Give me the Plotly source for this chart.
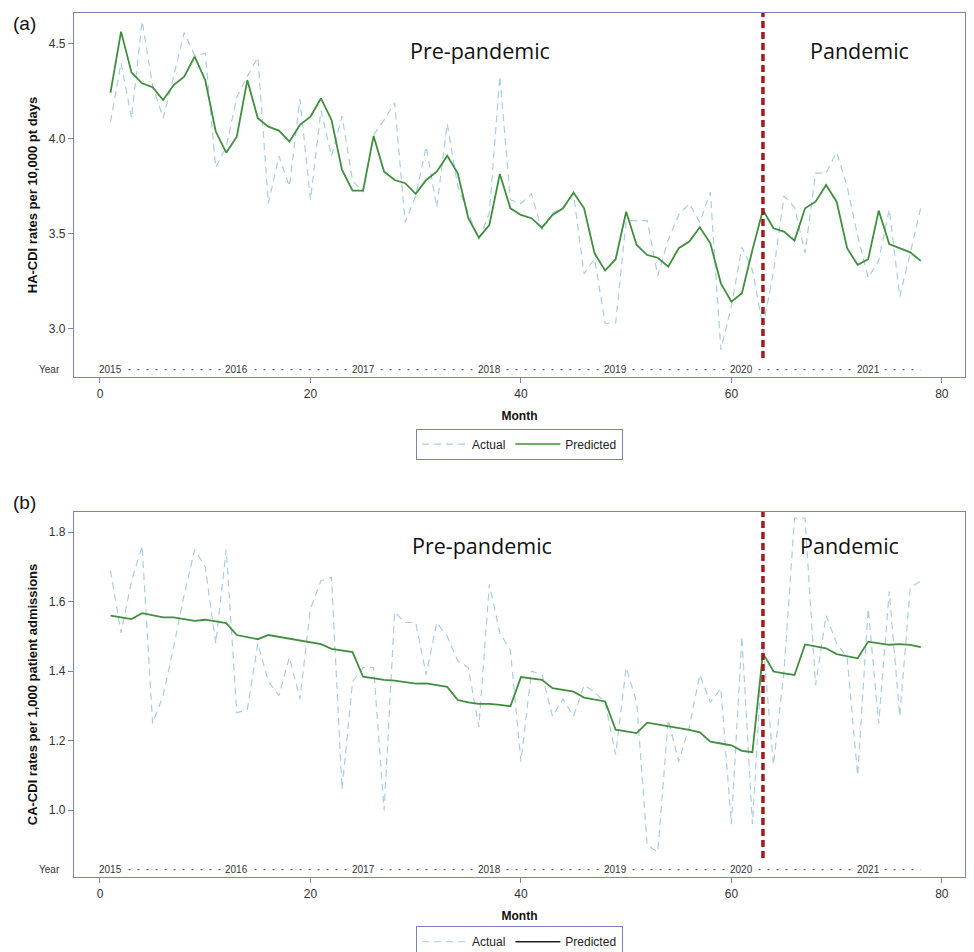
import plotly.graph_objects as go

# months since Jan 2015
months = list(range(1, 79))

# (a) HA-CDI rates per 10,000 pt days
ha_actual = [
    4.09, 4.40, 4.11, 4.62, 4.28, 4.11, 4.33, 4.56, 4.44, 4.45,
    3.85, 3.96, 4.22, 4.33, 4.43, 3.66, 3.91, 3.75, 4.21, 3.68,
    4.15, 3.91, 4.12, 3.78, 3.72, 4.02, 4.10, 4.19, 3.56, 3.70,
    3.96, 3.64, 4.08, 3.75, 3.61, 3.47, 3.61, 4.33, 3.68, 3.66,
    3.71, 3.52, 3.61, 3.64, 3.71, 3.29, 3.37, 3.03, 3.03, 3.57,
    3.57, 3.57, 3.28, 3.47, 3.60, 3.66, 3.56, 3.72, 2.89, 3.12,
    3.43, 3.31, 3.01, 3.30, 3.70, 3.64, 3.40, 3.82, 3.82, 3.93,
    3.75, 3.49, 3.27, 3.36, 3.63, 3.17, 3.40, 3.64,
]
ha_predicted = [
    4.244, 4.565, 4.349, 4.293, 4.272, 4.205, 4.284, 4.328, 4.433, 4.310,
    4.039, 3.928, 4.012, 4.310, 4.109, 4.065, 4.044, 3.986, 4.074, 4.117,
    4.214, 4.100, 3.837, 3.728, 3.728, 4.016, 3.828, 3.784, 3.767, 3.711,
    3.784, 3.828, 3.912, 3.819, 3.583, 3.481, 3.547, 3.816, 3.635, 3.600,
    3.583, 3.533, 3.600, 3.635, 3.718, 3.635, 3.398, 3.307, 3.367, 3.617,
    3.442, 3.389, 3.375, 3.328, 3.425, 3.460, 3.535, 3.451, 3.240, 3.144,
    3.188, 3.416, 3.626, 3.530, 3.512, 3.465, 3.635, 3.670, 3.758, 3.670,
    3.425, 3.337, 3.367, 3.623, 3.447, 3.425, 3.403, 3.358,
]

# (b) CA-CDI rates per 1,000 patient admissions
ca_actual = [
    1.69, 1.51, 1.66, 1.76, 1.25, 1.33, 1.47, 1.62, 1.75, 1.70,
    1.48, 1.75, 1.28, 1.29, 1.48, 1.37, 1.33, 1.44, 1.32, 1.58,
    1.66, 1.67, 1.06, 1.37, 1.41, 1.41, 1.00, 1.57, 1.54, 1.54,
    1.39, 1.54, 1.50, 1.43, 1.41, 1.24, 1.65, 1.51, 1.46, 1.14,
    1.40, 1.39, 1.27, 1.32, 1.27, 1.36, 1.34, 1.31, 1.16, 1.41,
    1.31, 0.90, 0.88, 1.26, 1.14, 1.24, 1.39, 1.31, 1.35, 0.96,
    1.50, 0.96, 1.48, 1.13, 1.40, 1.84, 1.84, 1.36, 1.56, 1.48,
    1.44, 1.10, 1.58, 1.25, 1.63, 1.27, 1.64, 1.66,
]
ca_predicted = [
    1.560, 1.554, 1.550, 1.567, 1.560, 1.555, 1.555, 1.550, 1.545, 1.548,
    1.544, 1.538, 1.504, 1.497, 1.492, 1.504, 1.499, 1.494, 1.490, 1.483,
    1.478, 1.464, 1.459, 1.455, 1.384, 1.379, 1.375, 1.373, 1.369, 1.364,
    1.365, 1.361, 1.355, 1.317, 1.310, 1.306, 1.306, 1.303, 1.299, 1.383,
    1.380, 1.375, 1.351, 1.345, 1.341, 1.324, 1.319, 1.313, 1.232, 1.228,
    1.222, 1.252, 1.247, 1.243, 1.236, 1.231, 1.224, 1.197, 1.192, 1.187,
    1.171, 1.167, 1.452, 1.399, 1.394, 1.389, 1.477, 1.471, 1.466, 1.449,
    1.442, 1.437, 1.485, 1.480, 1.476, 1.478, 1.476, 1.469,
]

years = ["2015", "2016", "2017", "2018", "2019", "2020", "2021"]
year_start = [1, 13, 25, 37, 49, 61, 73]
pandemic_start = 63

FONT = "Liberation Sans, Arial, sans-serif"
FRAME = "#7a86b0"
GREEN = "#3f8f3f"
ACTUAL = "#a9cde3"
RED = "#a01c1c"

top_range = [2.747, 4.663]
bot_range = [0.808, 1.858]
row_pos = 0.02  # year row, fraction of plot height

fig = go.Figure()

panels = [
    ("x", "y", "legend", ha_actual, ha_predicted, top_range, GREEN),
    ("x2", "y2", "legend2", ca_actual, ca_predicted, bot_range, "#222222"),
]

for xa, ya, leg, act, pred, rng, leg_col in panels:
    row_y = rng[0] + row_pos * (rng[1] - rng[0])
    # dotted year row
    fig.add_trace(go.Scatter(
        x=[months[0], months[-1]], y=[row_y, row_y], xaxis=xa, yaxis=ya,
        mode="lines", line=dict(color="#666666", width=1.3, dash="2px,7px"),
        showlegend=False, hoverinfo="skip"))
    fig.add_trace(go.Scatter(
        x=months, y=act, xaxis=xa, yaxis=ya, name="Actual", legend=leg,
        mode="lines", line=dict(color=ACTUAL, width=1.2, dash="7px,5px")))
    fig.add_trace(go.Scatter(
        x=months, y=pred, xaxis=xa, yaxis=ya, name="Predicted",
        mode="lines", line=dict(color=GREEN, width=1.8), showlegend=False))
    # legend sample for predicted (bottom one is drawn dark in the original)
    fig.add_trace(go.Scatter(
        x=[None], y=[None], xaxis=xa, yaxis=ya, name="Predicted", legend=leg,
        mode="lines", line=dict(color=leg_col, width=1.5)))

    fig.add_shape(type="line", xref=xa, yref=ya + " domain",
                  x0=pandemic_start, x1=pandemic_start, y0=0.052, y1=1,
                  line=dict(color=RED, width=3.5, dash="7px,4px"))

    for yr, m in zip(years, year_start):
        fig.add_annotation(x=m, y=row_pos, xref=xa, yref=ya + " domain",
                           text=yr, showarrow=False, bgcolor="white",
                           borderpad=0, xanchor="center", yanchor="middle",
                           font=dict(family=FONT, size=10, color="#333333"))
    fig.add_annotation(x=-0.014, y=row_pos, xref=xa + " domain",
                       yref=ya + " domain", text="Year", showarrow=False,
                       xanchor="right", yanchor="middle",
                       font=dict(family=FONT, size=10, color="#333333"))

text_font = dict(family="Open Sans, sans-serif", size=21.5, color="#111111")
region_labels = [
    ("x", "y", 36.1, 0.898, "Pre-pandemic"),
    ("x", "y", 72.2, 0.898, "Pandemic"),
    ("x2", "y2", 36.3, 0.909, "Pre-pandemic"),
    ("x2", "y2", 71.2, 0.909, "Pandemic"),
]
for xa, ya, xp, yp, txt in region_labels:
    fig.add_annotation(x=xp, y=yp, xref=xa, yref=ya + " domain", text=txt,
                       showarrow=False, xanchor="center", yanchor="middle",
                       font=text_font)

for txt, yp in [("(a)", 0.988), ("(b)", 0.434)]:
    fig.add_annotation(x=-0.055, y=yp, xref="paper", yref="paper", text=txt,
                       showarrow=False, xanchor="center", yanchor="middle",
                       font=dict(family=FONT, size=19, color="#111111"))

xaxis_style = dict(
    range=[-2.47, 82.2], tickvals=[0, 20, 40, 60, 80], ticks="outside", ticklen=5,
    tickcolor=FRAME, showline=True, linecolor=FRAME, linewidth=1.3, mirror=True,
    showgrid=False, zeroline=False,
    tickfont=dict(family=FONT, size=12, color="#333333"),
    title=dict(text="Month", standoff=12,
               font=dict(family=FONT, size=12, color="#111111", weight="bold")),
)
yaxis_style = dict(
    ticks="outside", ticklen=5, tickcolor=FRAME, showline=True, linecolor=FRAME,
    linewidth=1.3, mirror=True, showgrid=False, zeroline=False, tickformat=".1f",
    tickfont=dict(family=FONT, size=12, color="#333333"),
)
ytitle_font = dict(family=FONT, size=13, color="#111111", weight="bold")

legend_style = dict(
    orientation="h", xanchor="center", yanchor="top", x=0.5,
    bordercolor=FRAME, borderwidth=1, bgcolor="white",
    font=dict(family=FONT, size=12, color="#222222"),
    itemwidth=45, tracegroupgap=0,
)

# the page body adds an 8px offset, so the figure is sized to fit the window
fig.update_layout(
    width=966, height=944,
    margin=dict(l=66, r=9, t=5, b=75, autoexpand=False),
    plot_bgcolor="white", paper_bgcolor="white",
    xaxis=dict(xaxis_style, anchor="y", domain=[0, 1]),
    xaxis2=dict(xaxis_style, anchor="y2", domain=[0, 1]),
    yaxis=dict(yaxis_style, anchor="x", domain=[0.5787, 1], range=top_range,
               tickvals=[3.0, 3.5, 4.0, 4.5],
               title=dict(text="HA-CDI rates per 10,000 pt days", standoff=8,
                          font=ytitle_font)),
    yaxis2=dict(yaxis_style, anchor="x2", domain=[0, 0.4225], range=bot_range,
                tickvals=[1.0, 1.2, 1.4, 1.6, 1.8],
                title=dict(text="CA-CDI rates per 1,000 patient admissions", standoff=8,
                           font=ytitle_font)),
    legend=dict(legend_style, y=0.519),
    legend2=dict(legend_style, y=-0.057),
)

fig.write_html("out.html")
